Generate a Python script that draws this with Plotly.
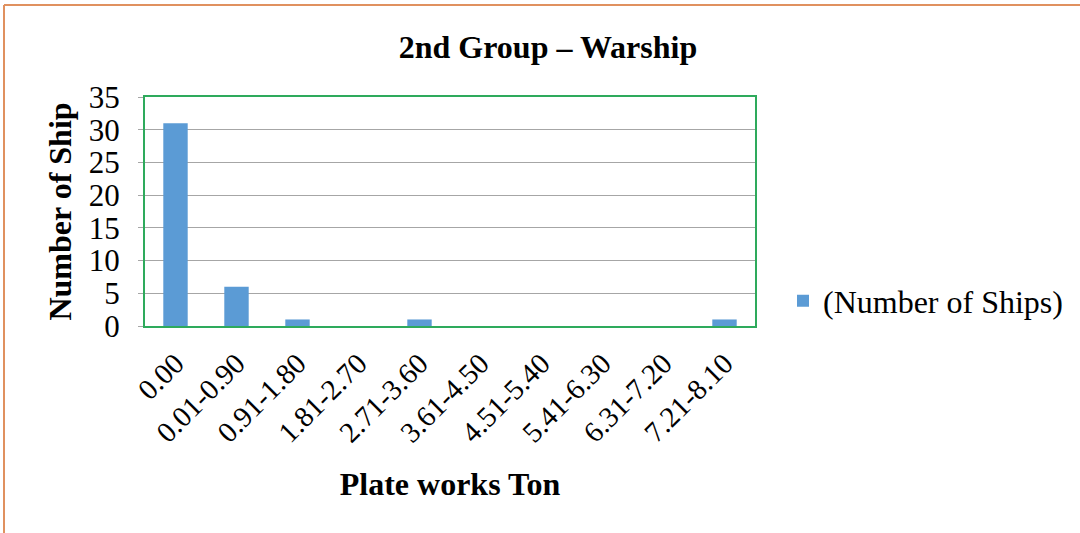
import plotly.graph_objects as go

categories = ["0.00", "0.01-0.90", "0.91-1.80", "1.81-2.70", "2.71-3.60",
              "3.61-4.50", "4.51-5.40", "5.41-6.30", "6.31-7.20", "7.21-8.10"]
ships = [31, 6, 1, 0, 1, 0, 0, 0, 0, 1]
y_ticks = [0, 5, 10, 15, 20, 25, 30, 35]

FONT = "Liberation Serif, Times New Roman, serif"
BORDER = "#E0915F"

# plot area in pixels: x 145..755, y 97..326
L, R, T, B = 145, 325, 97, 207
W, H = 1080, 533
pw, ph = W - L - R, H - T - B


def px(x):
    return (x - L) / pw


def py(y):
    return (H - B - y) / ph


fig = go.Figure()

fig.add_trace(go.Bar(
    x=categories, y=ships,
    name="(Number of Ships)",
    marker=dict(color="#5B9BD5", line=dict(width=0)),
))

fig.update_layout(
    width=W, height=H,
    margin=dict(l=L, r=R, t=T, b=B),
    paper_bgcolor="white",
    plot_bgcolor="white",
    font=dict(family=FONT, size=28, color="black"),
    bargap=0.6,
    title=dict(text="<b>2nd Group – Warship</b>", x=548 / W, xanchor="center",
               y=1 - 47 / H, yanchor="middle", font=dict(size=32, family=FONT)),
    showlegend=True,
    legend=dict(xref="container", yref="container",
                x=783 / W, y=1 - 301 / H, xanchor="left", yanchor="middle",
                font=dict(size=32, family=FONT), itemwidth=30,
                bgcolor="rgba(0,0,0,0)"),
    xaxis=dict(
        title=dict(text="<b>Plate works Ton</b>", font=dict(size=32, family=FONT), standoff=25),
        tickangle=-45,
        tickfont=dict(size=29, family=FONT),
        ticklabelstandoff=7,
        showline=True, linecolor="#2EAA5C", linewidth=2, mirror=True,
        showgrid=False,
        ticks="",
    ),
    yaxis=dict(
        title=dict(text="<b>Number of Ship</b>", font=dict(size=32, family=FONT), standoff=8),
        range=[0, 35],
        tickvals=y_ticks,
        tickfont=dict(size=31, family=FONT),
        ticklabelstandoff=12,
        showline=True, linecolor="#2EAA5C", linewidth=2, mirror=True,
        showgrid=True, gridcolor="#A6A6A6", gridwidth=1,
        ticks="outside", ticklen=5, tickcolor="#A6A6A6",
        zeroline=False,
    ),
    shapes=[
        dict(type="line", xref="paper", yref="paper",
             x0=px(4), x1=px(1080), y0=py(5), y1=py(5),
             line=dict(color=BORDER, width=2)),
        dict(type="line", xref="paper", yref="paper",
             x0=px(4), x1=px(4), y0=py(5), y1=py(533),
             line=dict(color=BORDER, width=2)),
    ],
)

fig.write_html("out.html", config={"displayModeBar": False},
               post_script="document.body.style.margin='0';")
